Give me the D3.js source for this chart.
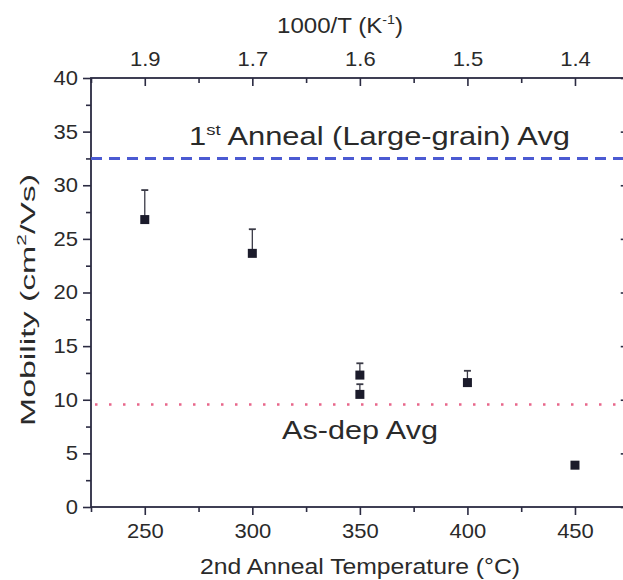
<!DOCTYPE html>
<html><head><meta charset="utf-8">
<script src="https://cdn.jsdelivr.net/npm/d3@7"></script>
<style>
html,body{margin:0;padding:0;background:#fff;}
svg{display:block;font-family:"Liberation Sans", Arial, Helvetica, sans-serif;}
</style></head><body>
<svg id="chart" width="623" height="580"></svg>
<script>
// Hall mobility after the second anneal, by anneal temperature
const temperatures = [250, 300, 350, 350, 400, 450];
const mobility     = [26.8, 23.65, 12.3, 10.5, 11.6, 3.9];
const errorPlus    = [2.75, 2.25, 1.1, 0.95, 1.1, 0];

// reference averages
const largeGrainAvg = 32.5;
const asDepAvg = 9.55;

// tick values and labels
const bottomTicks = [250, 300, 350, 400, 450];
const bottomMinor = [225, 275, 325, 375, 425, 475];
const topTickLabels = ["1.9", "1.7", "1.6", "1.5", "1.4"];
const yTicks = [0, 5, 10, 15, 20, 25, 30, 35, 40];
const yMinor = [2.5, 7.5, 12.5, 17.5, 22.5, 27.5, 32.5, 37.5];

const svg = d3.select("#chart");
const x = d3.scaleLinear().domain([225, 475]).range([91, 628.75]);
const y = d3.scaleLinear().domain([0, 40]).range([507, 78]);

const axisColor = "#2b2b42";
const textColor = "#2a2a2a";
const sx = 1.1;   // horizontal stretch for tick labels

function styleAxis(g) {
  g.select(".domain").remove();
  g.selectAll(".tick line").attr("stroke", axisColor).attr("stroke-width", 1.6);
  g.selectAll(".tick text").attr("fill", textColor).attr("font-size", 20)
    .attr("font-family", "Liberation Sans, Arial, sans-serif");
}

// minor ticks
svg.append("g").attr("transform", "translate(0,507)")
  .call(d3.axisBottom(x).tickValues(bottomMinor).tickSize(5).tickFormat(""))
  .call(styleAxis);
svg.append("g").attr("transform", "translate(0,78)")
  .call(d3.axisTop(x).tickValues(bottomMinor).tickSize(-5).tickFormat(""))
  .call(styleAxis);
svg.append("g").attr("transform", "translate(91,0)")
  .call(d3.axisLeft(y).tickValues(yMinor).tickSize(5).tickFormat(""))
  .call(styleAxis);
svg.append("g").attr("transform", `translate(${x(475)},0)`)
  .call(d3.axisRight(y).tickValues(yMinor).tickSize(-5).tickFormat(""))
  .call(styleAxis);

// major ticks
const gB = svg.append("g").attr("transform", "translate(0,507)")
  .call(d3.axisBottom(x).tickValues(bottomTicks).tickSize(8).tickPadding(9))
  .call(styleAxis);
gB.selectAll(".tick text").attr("transform", `scale(${sx},1)`);

const gT = svg.append("g").attr("transform", "translate(0,78)")
  .call(d3.axisTop(x).tickValues(bottomTicks).tickSize(-8).tickPadding(12)
    .tickFormat((d, i) => topTickLabels[i]))
  .call(styleAxis);
gT.selectAll(".tick text").attr("transform", `scale(${sx},1)`);

const gL = svg.append("g").attr("transform", "translate(91,0)")
  .call(d3.axisLeft(y).tickValues(yTicks).tickSize(8).tickPadding(5))
  .call(styleAxis);
gL.selectAll(".tick text").attr("x", -13 / sx).attr("transform", `scale(${sx},1)`);

svg.append("g").attr("transform", `translate(${x(475)},0)`)
  .call(d3.axisRight(y).tickValues(yTicks).tickSize(-8).tickFormat(""))
  .call(styleAxis);

// frame
svg.append("rect")
  .attr("x", x(225)).attr("y", y(40))
  .attr("width", x(475) - x(225)).attr("height", y(0) - y(40))
  .attr("fill", "none").attr("stroke", axisColor).attr("stroke-width", 1.8);

// average lines
svg.append("line")
  .attr("x1", x(225)).attr("x2", x(475))
  .attr("y1", y(largeGrainAvg)).attr("y2", y(largeGrainAvg))
  .attr("stroke", "#4b5ad2").attr("stroke-width", 3)
  .attr("stroke-dasharray", "11 7");
svg.append("line")
  .attr("x1", x(225) + 4).attr("x2", x(475))
  .attr("y1", y(asDepAvg)).attr("y2", y(asDepAvg))
  .attr("stroke", "#e8668a").attr("stroke-width", 2.5)
  .attr("stroke-dasharray", "2.5 11.5");

// error bars (upper)
const pts = temperatures.map((t, i) => ({t, v: mobility[i], e: errorPlus[i]}));
const eb = svg.append("g").attr("stroke", "#3a3a46").attr("stroke-width", 1.3);
pts.filter(d => d.e > 0).forEach(d => {
  eb.append("line").attr("x1", x(d.t)).attr("x2", x(d.t))
    .attr("y1", y(d.v)).attr("y2", y(d.v + d.e));
  eb.append("line").attr("x1", x(d.t) - 3.5).attr("x2", x(d.t) + 3.5)
    .attr("y1", y(d.v + d.e)).attr("y2", y(d.v + d.e)).attr("stroke-width", 1.8);
});

// markers
svg.append("g").selectAll("rect").data(pts).join("rect")
  .attr("x", d => x(d.t) - 4.5).attr("y", d => y(d.v) - 4.5)
  .attr("width", 9).attr("height", 9).attr("fill", "#1b1b2b");

// titles and annotations
function label(txt, opts) {
  const t = svg.append("text")
    .attr("fill", textColor)
    .attr("font-size", opts.size)
    .attr("text-anchor", opts.anchor || "start")
    .attr("transform", opts.transform);
  txt.forEach(part => {
    const s = t.append("tspan").text(part.text);
    if (part.size) s.attr("font-size", part.size);
    if (part.dy) s.attr("dy", part.dy);
  });
  if (opts.length) t.attr("textLength", opts.length).attr("lengthAdjust", "spacingAndGlyphs");
  return t;
}

label([{text: "1000/T (K"}, {text: "-1", size: 13, dy: -9}, {text: ")", dy: 9}],
  {size: 22, anchor: "middle", transform: "translate(340,33)", length: 126});

label([{text: "2nd Anneal Temperature (\u00B0C)"}],
  {size: 22, anchor: "middle", transform: "translate(360,574)", length: 320});

label([{text: "Mobility (cm"}, {text: "2", size: 13, dy: -9}, {text: "/Vs)", dy: 9}],
  {size: 21, anchor: "middle", transform: "translate(35,300) rotate(-90)", length: 252});

label([{text: "1"}, {text: "st", size: 15, dy: -10}, {text: " Anneal (Large-grain) Avg", dy: 10}],
  {size: 25, transform: "translate(189,145)", length: 381});

label([{text: "As-dep Avg"}],
  {size: 26, transform: "translate(282,439)", length: 156});
</script>
</body></html>
